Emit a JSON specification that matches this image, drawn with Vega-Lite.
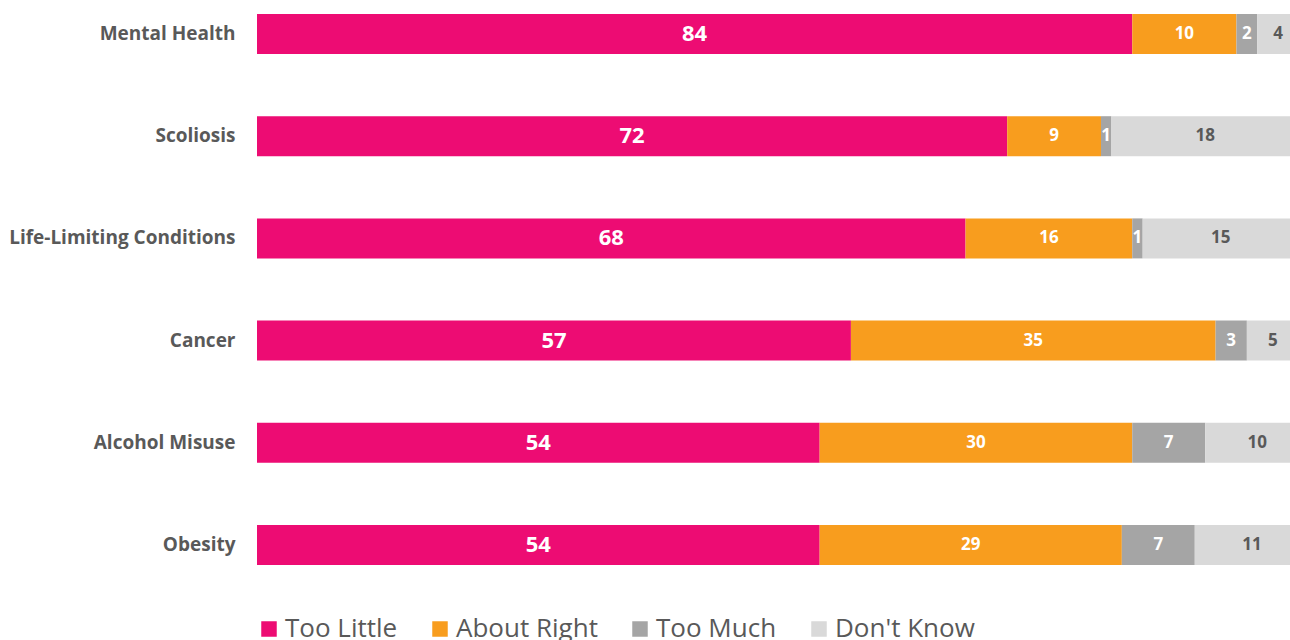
{
  "$schema": "https://vega.github.io/schema/vega-lite/v6.json",
  "autosize": {"type": "none"},
  "padding": {"left": 257, "top": 0, "right": 0, "bottom": 61},
  "width": 1033,
  "height": 579,
  "background": "white",
  "config": {"view": {"stroke": null}, "font": "Open Sans"},
  "data": {
    "values": [
      {"topic": "Mental Health", "resp": "Too Little", "k": 1, "value": 84},
      {"topic": "Mental Health", "resp": "About Right", "k": 2, "value": 10},
      {"topic": "Mental Health", "resp": "Too Much", "k": 3, "value": 2},
      {"topic": "Mental Health", "resp": "Don't Know", "k": 4, "value": 4},
      {"topic": "Scoliosis", "resp": "Too Little", "k": 1, "value": 72},
      {"topic": "Scoliosis", "resp": "About Right", "k": 2, "value": 9},
      {"topic": "Scoliosis", "resp": "Too Much", "k": 3, "value": 1},
      {"topic": "Scoliosis", "resp": "Don't Know", "k": 4, "value": 18},
      {"topic": "Life-Limiting Conditions", "resp": "Too Little", "k": 1, "value": 68},
      {"topic": "Life-Limiting Conditions", "resp": "About Right", "k": 2, "value": 16},
      {"topic": "Life-Limiting Conditions", "resp": "Too Much", "k": 3, "value": 1},
      {"topic": "Life-Limiting Conditions", "resp": "Don't Know", "k": 4, "value": 15},
      {"topic": "Cancer", "resp": "Too Little", "k": 1, "value": 57},
      {"topic": "Cancer", "resp": "About Right", "k": 2, "value": 35},
      {"topic": "Cancer", "resp": "Too Much", "k": 3, "value": 3},
      {"topic": "Cancer", "resp": "Don't Know", "k": 4, "value": 5},
      {"topic": "Alcohol Misuse", "resp": "Too Little", "k": 1, "value": 54},
      {"topic": "Alcohol Misuse", "resp": "About Right", "k": 2, "value": 30},
      {"topic": "Alcohol Misuse", "resp": "Too Much", "k": 3, "value": 7},
      {"topic": "Alcohol Misuse", "resp": "Don't Know", "k": 4, "value": 10},
      {"topic": "Obesity", "resp": "Too Little", "k": 1, "value": 54},
      {"topic": "Obesity", "resp": "About Right", "k": 2, "value": 29},
      {"topic": "Obesity", "resp": "Too Much", "k": 3, "value": 7},
      {"topic": "Obesity", "resp": "Don't Know", "k": 4, "value": 11}
    ]
  },
  "encoding": {
    "y": {
      "field": "topic",
      "type": "nominal",
      "sort": ["Mental Health", "Scoliosis", "Life-Limiting Conditions", "Cancer", "Alcohol Misuse", "Obesity"],
      "scale": {"paddingInner": 0.6086, "paddingOuter": 0.137},
      "axis": {
        "title": null,
        "domain": false,
        "ticks": false,
        "labelFont": "Open Sans",
        "labelFontWeight": "bold",
        "labelFontSize": 19,
        "labelColor": "#595959",
        "labelPadding": 22,
        "labelLimit": 0
      }
    }
  },
  "layer": [
    {
      "mark": {"type": "bar", "clip": true},
      "encoding": {
        "x": {"field": "value", "type": "quantitative", "stack": "zero", "scale": {"domain": [0, 99.14], "nice": false}, "axis": null},
        "order": {"field": "k", "type": "quantitative"},
        "color": {
          "field": "resp",
          "type": "nominal",
          "scale": {
            "domain": ["Too Little", "About Right", "Too Much", "Don't Know"],
            "range": ["#ED0C73", "#F89D1E", "#A5A5A5", "#D9D9D9"]
          },
          "legend": {
            "title": null,
            "orient": "none",
            "direction": "horizontal",
            "legendX": -1,
            "legendY": 616,
            "symbolType": "square",
            "symbolSize": 240,
            "symbolStrokeWidth": 0,
            "labelFont": "Open Sans",
            "labelFontSize": 26,
            "labelColor": "#595959",
            "labelOffset": 3,
            "columnPadding": 29
          }
        }
      }
    },
    {
      "mark": {"type": "text", "fontWeight": "bold", "font": "Open Sans", "baseline": "middle", "align": "center"},
      "encoding": {
        "x": {"field": "value", "type": "quantitative", "stack": "zero", "bandPosition": 0.5},
        "order": {"field": "k", "type": "quantitative"},
        "detail": {"field": "resp", "type": "nominal"},
        "text": {"field": "value", "type": "quantitative"},
        "size": {"condition": {"test": "datum.resp === 'Too Little'", "value": 22}, "value": 17},
        "color": {"condition": {"test": "datum.resp === \"Don't Know\"", "value": "#595959"}, "value": "white"}
      }
    }
  ]
}
